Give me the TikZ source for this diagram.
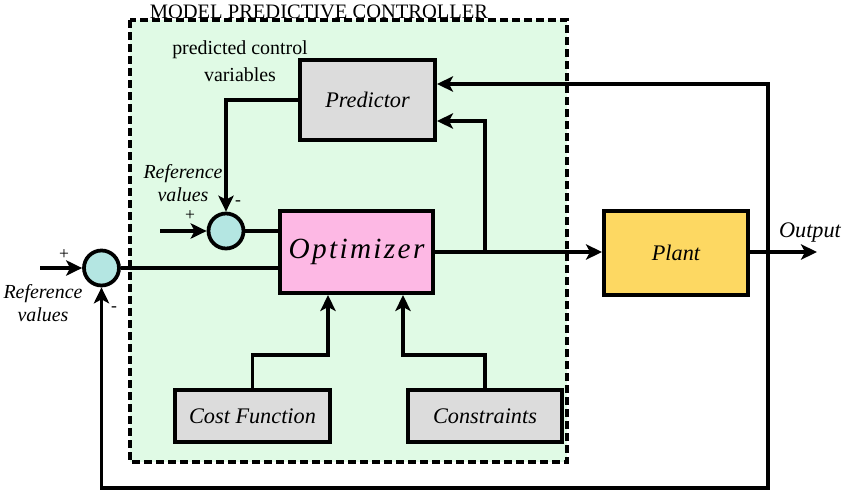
\documentclass[tikz,border=0pt]{standalone}
\usepackage{fontspec}
\setmainfont{Liberation Serif}
\usetikzlibrary{arrows.meta}
\definecolor{mpcgreen}{HTML}{E0FAE5}
\definecolor{boxgrey}{HTML}{DCDCDC}
\definecolor{optpink}{HTML}{FDB8E4}
\definecolor{plantyellow}{HTML}{FDD862}
\definecolor{sumcyan}{HTML}{B4E6E2}

\begin{document}
\begin{tikzpicture}[x=0.03cm,y=-0.03cm,
        >={Stealth[length=4.8mm,width=4.6mm,inset=1.2mm]},
        blk/.style={draw,line width=3.4pt,fill=boxgrey,inner sep=0pt,
            font=\fontsize{19}{22}\selectfont\itshape},
        sumpt/.style={draw,circle,line width=3.2pt,fill=sumcyan,
            minimum size=1.05cm,inner sep=0pt},
        wire/.style={line width=3pt},
        lbl/.style={font=\fontsize{17}{20}\selectfont\itshape,align=center,inner sep=0pt},
        sgn/.style={font=\fontsize{15}{16}\selectfont,inner sep=0pt}]
    \useasboundingbox (0,0) rectangle (846,498);
    \draw[line width=3pt,dash pattern=on 2.4mm off 1.2mm,fill=mpcgreen]
        (130,20) rectangle (567,462);
    \node[inner sep=0pt,font=\fontsize{17.5}{20}\selectfont] (title) at (319,12) {MODEL PREDICTIVE CONTROLLER};
    \node[inner sep=0pt,align=center,font=\fontsize{17}{23}\selectfont] (pcv) at (240,61) {predicted control\\variables};

    \node[blk,minimum width=4.05cm,minimum height=2.4cm] (pred) at (367.5,100) {Predictor};
    \node[blk,fill=optpink,minimum width=4.59cm,minimum height=2.46cm,
        font=\fontsize{25}{28}\selectfont\itshape\addfontfeature{LetterSpace=8}] (opt) at (356.5,252) {Optimizer};
    \node[blk,fill=plantyellow,minimum width=4.32cm,minimum height=2.52cm] (plant) at (676,253) {Plant};
    \node[blk,minimum width=4.65cm,minimum height=1.56cm] (cost) at (252.5,416) {Cost Function};
    \node[blk,minimum width=4.62cm,minimum height=1.56cm] (con) at (485,416) {Constraints};
    \node[sumpt] (sum1) at (101.5,268) {};
    \node[sumpt] (sum2) at (226,231) {};

    \node[lbl] (ref1) at (43,303) {Reference\\values};
    \node[lbl] (ref2) at (183,183) {Reference\\values};
    \node[lbl,font=\fontsize{19}{22}\selectfont\itshape] (outlbl) at (810,232) {Output};
    \node[sgn] (plus1) at (64,255) {+};
    \node[sgn] (minus1) at (114,309) {-};
    \node[sgn] (plus2) at (190,216) {+};
    \node[sgn] (minus2) at (238,203) {-};

    \coordinate (in1) at (40,268);
    \coordinate (in2) at (160,231);
    \coordinate (out) at (817,252);
    \coordinate (tap) at (768,252);
    \coordinate (fbtop) at (768,84);
    \coordinate (fbbot) at (768,488);
    \coordinate (branch) at (485,252);
    \coordinate (branchtop) at (485,121);
    \coordinate (costin) at (328,355);
    \coordinate (conin) at (403,355);

    \draw[wire,->] (in1) -- (sum1.west);
    \draw[wire,->] (in2) -- (sum2.west);
    \draw[wire] (sum1.east) -- (sum1.east -| opt.west);
    \draw[wire] (sum2.east) -- (sum2.east -| opt.west);
    \draw[wire,->] (pred.west) -| (sum2.north);
    \draw[wire,->] (opt.east |- branch) -- (branch -| plant.west);
    \draw[wire,->] (branch) -- (branchtop) -- (branchtop -| pred.east);
    \draw[wire,->] (plant.east |- tap) -- (out);
    \draw[wire,->] (tap) -- (fbtop) -- (fbtop -| pred.east);
    \draw[wire,->] (tap) -- (fbbot) -| (sum1.south);
    \draw[wire,->] (cost.north) |- (costin) -- (costin |- opt.south);
    \draw[wire,->] (con.north) |- (conin) -- (conin |- opt.south);
\end{tikzpicture}
\end{document}
